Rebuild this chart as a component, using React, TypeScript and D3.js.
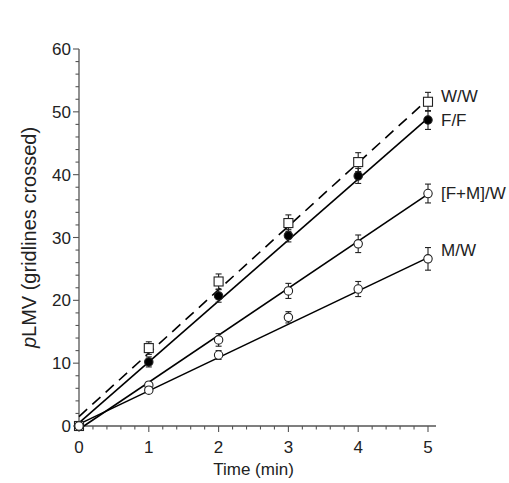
import React from "react";
import * as d3 from "d3";

const times = [0, 1, 2, 3, 4, 5];
const wwValues = [0, 12.4, 23.0, 32.3, 42.0, 51.6];
const wwErr = [0, 1.0, 1.2, 1.3, 1.5, 1.5];
const ffValues = [0, 10.2, 20.7, 30.3, 39.8, 48.7];
const ffErr = [0, 0.8, 1.0, 1.0, 1.2, 1.5];
const fmwValues = [0, 6.5, 13.7, 21.5, 29.0, 37.0];
const fmwErr = [0, 0.5, 1.0, 1.2, 1.4, 1.5];
const mwValues = [0, 5.7, 11.3, 17.3, 21.8, 26.6];
const mwErr = [0, 0.5, 0.7, 0.9, 1.2, 1.8];

// fitted line end points: [t0, value0, t1, value1]
const wwFit = [0, 1.5, 5, 52.0];
const ffFit = [0, 0.5, 5, 49.0];
const fmwFit = [0.07, 0.0, 5, 36.9];
const mwFit = [0, 0.3, 5, 26.8];

const seriesLabels = ["W/W", "F/F", "[F+M]/W", "M/W"];
const xTicks = [0, 1, 2, 3, 4, 5];
const yTicks = [0, 10, 20, 30, 40, 50, 60];

type Series = {
  label: string;
  values: number[];
  err: number[];
  fit: number[];
  marker: "square" | "filled" | "circle";
  dashed: boolean;
  labelDy: number;
};

const series: Series[] = [
  { label: seriesLabels[0], values: wwValues, err: wwErr, fit: wwFit, marker: "square", dashed: true, labelDy: -6 },
  { label: seriesLabels[1], values: ffValues, err: ffErr, fit: ffFit, marker: "filled", dashed: false, labelDy: 0 },
  { label: seriesLabels[2], values: fmwValues, err: fmwErr, fit: fmwFit, marker: "circle", dashed: false, labelDy: 0 },
  { label: seriesLabels[3], values: mwValues, err: mwErr, fit: mwFit, marker: "circle", dashed: false, labelDy: -9 },
];

export default function App() {
  const width = 509;
  const height = 483;
  const x = d3.scaleLinear().domain([0, 5]).range([79, 428]);
  const y = d3.scaleLinear().domain([0, 60]).range([426, 49]);
  const font = "'Liberation Sans', Arial, Helvetica, sans-serif";
  const axisColor = "#555";
  const textColor = "#222";

  const xMinor = d3.range(0, 5.01, 0.2);
  const yMinor = d3.range(0, 60.01, 2);

  const line = d3
    .line<[number, number]>()
    .x((d) => x(d[0]))
    .y((d) => y(d[1]));

  return (
    <svg width={width} height={height} style={{ position: "absolute", left: 0, top: 0, background: "#fff" }}>
      <line x1={x(0)} x2={x(0)} y1={y(0)} y2={y(60)} stroke={axisColor} strokeWidth={1.3} />
      <line x1={x(0)} x2={436} y1={y(0)} y2={y(0)} stroke={axisColor} strokeWidth={1.3} />
      {yMinor.map((v) => (
        <line key={"ym" + v} x1={x(0) - (v % 10 === 0 ? 6 : 3.5)} x2={x(0)} y1={y(v)} y2={y(v)} stroke={axisColor} strokeWidth={1.1} />
      ))}
      {xMinor.map((v) => (
        <line key={"xm" + v} x1={x(v)} x2={x(v)} y1={y(0)} y2={y(0) + (Math.abs(v - Math.round(v)) < 1e-6 ? 6 : 3.5)} stroke={axisColor} strokeWidth={1.1} />
      ))}
      {yTicks.map((v) => (
        <text key={"yt" + v} x={x(0) - 8} y={y(v)} dy="0.36em" textAnchor="end" fontFamily={font} fontSize={17} fill={textColor}>
          {v}
        </text>
      ))}
      {xTicks.map((v) => (
        <text key={"xt" + v} x={x(v)} y={y(0) + 27} textAnchor="middle" fontFamily={font} fontSize={17} fill={textColor}>
          {v}
        </text>
      ))}
      <text x={(x(0) + x(5)) / 2} y={475} textAnchor="middle" fontFamily={font} fontSize={17} fill={textColor}>
        Time (min)
      </text>
      <text
        transform={`translate(36,${(y(0) + y(60)) / 2}) rotate(-90)`}
        textAnchor="middle"
        fontFamily={font}
        fontSize={20}
        fill={textColor}
      >
        <tspan fontStyle="italic">p</tspan>LMV (gridlines crossed)
      </text>

      {series.map((s) => (
        <path
          key={"fit" + s.label}
          d={line([[s.fit[0], s.fit[1]], [s.fit[2], s.fit[3]]]) || ""}
          fill="none"
          stroke="#000"
          strokeWidth={1.6}
          strokeDasharray={s.dashed ? "11,7" : undefined}
        />
      ))}

      {series.map((s) => (
        <g key={"pts" + s.label}>
          {s.values.map((v, i) => {
            const cx = x(times[i]);
            const cy = y(v);
            const e = s.err[i];
            return (
              <g key={i}>
                {e > 0 && (
                  <g stroke="#222" strokeWidth={1.1}>
                    <line x1={cx} x2={cx} y1={y(v - e)} y2={y(v + e)} />
                    <line x1={cx - 3} x2={cx + 3} y1={y(v - e)} y2={y(v - e)} />
                    <line x1={cx - 3} x2={cx + 3} y1={y(v + e)} y2={y(v + e)} />
                  </g>
                )}
                {s.marker === "square" ? (
                  <rect x={cx - 4.5} y={cy - 4.5} width={9} height={9} fill="#fff" stroke="#222" strokeWidth={1.1} />
                ) : (
                  <circle cx={cx} cy={cy} r={4.2} fill={s.marker === "filled" ? "#000" : "#fff"} stroke="#222" strokeWidth={1.1} />
                )}
              </g>
            );
          })}
          <text
            x={x(5) + 13}
            y={y(s.values[5]) + s.labelDy}
            dy="0.35em"
            fontFamily={font}
            fontSize={17}
            fill={textColor}
          >
            {s.label}
          </text>
        </g>
      ))}
    </svg>
  );
}
